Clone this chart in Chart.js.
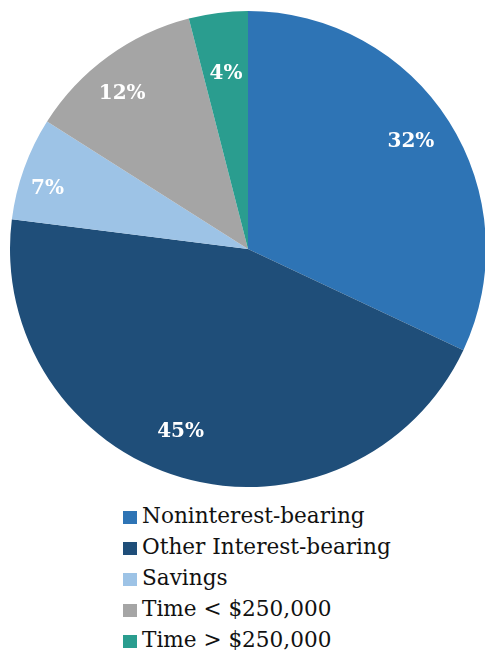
<!DOCTYPE html>
<html>
<head>
<meta charset="utf-8">
<script src="https://cdn.jsdelivr.net/npm/chart.js@4"></script>
<style>
  body { margin: 0; background: #fff; width: 485px; height: 650px; overflow: hidden; position: relative; }
  #pieWrap { position: absolute; left: 10px; top: 11px; width: 476px; height: 476px; }
  #legend { position: absolute; left: 123px; top: 500px; font-family: 'DejaVu Serif', serif; font-size: 21.6px; color: #111; }
  #legend div { height: 31px; line-height: 31px; white-space: nowrap; }
  #legend span { display: inline-block; width: 14px; height: 13px; margin-right: 5px; vertical-align: -1px; }
</style>
</head>
<body>
<div id="pieWrap"><canvas id="depositChart"></canvas></div>
<div id="legend"></div>
<script>
const categories = ['Noninterest-bearing', 'Other Interest-bearing', 'Savings', 'Time < $250,000', 'Time > $250,000'];
const shares = [32, 45, 7, 12, 4];
const sliceColors = ['#2E74B5', '#1F4E79', '#9DC3E6', '#A5A5A5', '#2A9D8F'];

// where each percent label sits: share of the radius, and a small turn in degrees
const labelRadius = [0.82, 0.82, 0.88, 0.84, 0.74];
const labelTurn = [-1, 4, -3, -3, 0];

const sliceLabels = {
    id: 'sliceLabels',
    afterDatasetsDraw(chart) {
        const ctx = chart.ctx;
        const meta = chart.getDatasetMeta(0);
        ctx.save();
        ctx.fillStyle = '#fff';
        ctx.font = "bold 20px 'DejaVu Serif', serif";
        ctx.textAlign = 'center';
        ctx.textBaseline = 'middle';
        meta.data.forEach((arc, i) => {
            const p = arc.getProps(['x', 'y', 'startAngle', 'endAngle', 'outerRadius'], true);
            const mid = (p.startAngle + p.endAngle) / 2 + labelTurn[i] * Math.PI / 180;
            const r = p.outerRadius * labelRadius[i];
            ctx.fillText(shares[i] + '%', p.x + Math.cos(mid) * r, p.y + Math.sin(mid) * r);
        });
        ctx.restore();
    }
};

const chart = new Chart(document.getElementById('depositChart'), {
    type: 'pie',
    data: {
        labels: categories,
        datasets: [{
            data: shares,
            backgroundColor: sliceColors,
            borderWidth: 0
        }]
    },
    options: {
        responsive: true,
        maintainAspectRatio: false,
        animation: false,
        layout: { padding: 0 },
        plugins: {
            legend: { display: false },
            tooltip: { enabled: false }
        }
    },
    plugins: [sliceLabels]
});

// legend list under the pie
const legendEl = document.getElementById('legend');
chart.data.labels.forEach((label, i) => {
    const row = document.createElement('div');
    const box = document.createElement('span');
    box.style.background = sliceColors[i];
    row.appendChild(box);
    row.appendChild(document.createTextNode(label));
    legendEl.appendChild(row);
});
</script>
</body>
</html>
